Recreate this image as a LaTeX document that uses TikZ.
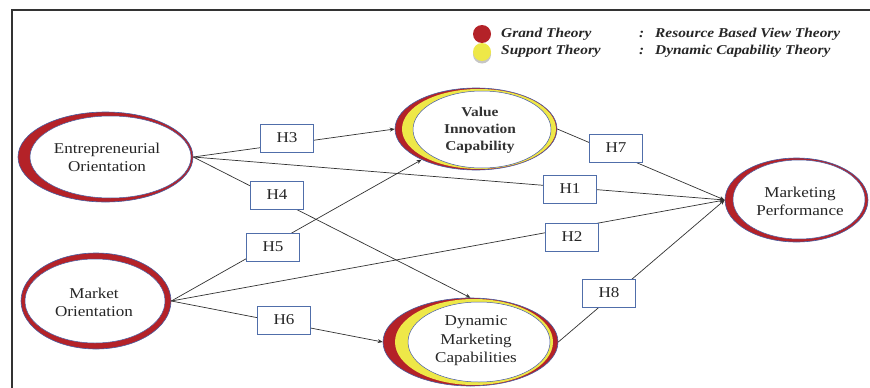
\documentclass[tikz,border=0pt]{standalone}
\usepackage{fontspec}
\setmainfont{Liberation Serif}[FakeStretch=1.14]
\usetikzlibrary{shapes.geometric,arrows.meta}
\definecolor{ringred}{RGB}{180,34,40}
\definecolor{ringyel}{RGB}{238,232,72}
\definecolor{edgeblue}{RGB}{72,92,160}
\definecolor{boxblue}{RGB}{80,110,170}
\definecolor{linegray}{RGB}{50,50,50}
\begin{document}
\begin{tikzpicture}[x=1pt,y=-1pt,
  outerell/.style={ellipse, fill=ringred, draw=edgeblue, line width=0.6pt, inner sep=0pt},
  yelell/.style={ellipse, fill=ringyel, inner sep=0pt},
  whiteell/.style={ellipse, fill=white, draw=edgeblue, line width=0.5pt, inner sep=0pt},
  lbl/.style={align=center, text=black!85, font=\fontsize{15}{18}\selectfont, inner sep=0pt},
  blbl/.style={align=center, text=black!80, font=\bfseries\fontsize{13.5}{17}\selectfont, inner sep=0pt},
  hbox/.style={draw=boxblue, fill=white, line width=0.8pt, minimum width=53pt, minimum height=28pt, inner sep=0pt, text=black!85, font=\fontsize{15}{18}\selectfont},
  conn/.style={draw=linegray, line width=0.7pt},
  arr/.style={conn, -{Stealth[length=5pt,width=4pt]}},
  legtxt/.style={font=\bfseries\itshape\fontsize{13.5}{16}\selectfont, text=black!85, inner sep=0pt, anchor=west}
]
\useasboundingbox (0,0) rectangle (870,388);
\fill[white] (0,0) rectangle (870,388);
% frame
\draw[line width=1.8pt, black!80] (12,388) -- (12,10) -- (870,10);

% legend
\node[circle, fill=gray!45, minimum size=18pt, inner sep=0pt] (lgS) at (482,54.5) {};
\node[circle, fill=ringyel, minimum size=18pt, inner sep=0pt] (lgY) at (482,52) {};
\node[circle, fill=ringred, minimum size=18pt, inner sep=0pt] (lgR) at (482,34) {};
\node[legtxt] (lg1) at (501,34) {Grand Theory};
\node[legtxt] (lg2) at (501,51) {Support Theory};
\node[legtxt] (lc1) at (639,34) {:};
\node[legtxt] (lc2) at (639,51) {:};
\node[legtxt] (lg3) at (655,34) {Resource Based View Theory};
\node[legtxt] (lg4) at (655,51) {Dynamic Capability Theory};

% Entrepreneurial Orientation
\node[outerell, minimum width=175pt, minimum height=90pt] (EO) at (105.5,157) {};
\node[whiteell, minimum width=161pt, minimum height=82pt] (EOi) at (110.5,157) {};
\node[lbl] (EOt) at (107,157) {Entrepreneurial\\Orientation};

% Market Orientation
\node[outerell, minimum width=150pt, minimum height=96pt] (MO) at (96,301) {};
\node[whiteell, minimum width=140pt, minimum height=84pt] (MOi) at (95,301) {};
\node[lbl] (MOt) at (94,302) {Market\\Orientation};

% Value Innovation Capability
\node[outerell, minimum width=162pt, minimum height=82pt] (VIC) at (476,129) {};
\node[yelell, minimum width=154pt, minimum height=80pt] (VICy) at (479,129) {};
\node[whiteell, minimum width=138pt, minimum height=77pt] (VICi) at (482,129.5) {};
\node[blbl] (VICt) at (480,130) {Value\\Innovation\\Capability};

% Dynamic Marketing Capabilities
\node[outerell, minimum width=175pt, minimum height=88pt] (DMC) at (470.5,342) {};
\node[yelell, minimum width=158pt, minimum height=86pt] (DMCy) at (474,342) {};
\node[whiteell, minimum width=142pt, minimum height=80pt] (DMCi) at (479,342) {};
\node[lbl, font=\fontsize{15}{18.5}\selectfont] (DMCt) at (476,341) {Dynamic\\Marketing\\Capabilities};

% Marketing Performance
\node[outerell, minimum width=143pt, minimum height=84pt] (MP) at (796.5,200) {};
\node[whiteell, minimum width=132pt, minimum height=79pt] (MPi) at (799,199.5) {};
\node[lbl] (MPt) at (800,201) {Marketing\\Performance};

% connectors
\draw[arr] (EO.east) -- (VIC.west);
\draw[arr] (EO.east) -- (MP.west);
\draw[arr] (EO.east) -- (DMC.north);
\draw[arr] (MO.east) -- (VIC);
\draw[arr] (MO.east) -- (MP.west);
\draw[arr] (MO.east) -- (DMC.west);
\draw[arr] (VIC.east) -- (MP.west);
\draw[arr] (DMC.east) -- (MP.west);

% hypothesis labels
\node[hbox] (H3) at (287,138) {H3};
\node[hbox] (H4) at (277,195) {H4};
\node[hbox] (H5) at (273,247) {H5};
\node[hbox] (H6) at (284,320) {H6};
\node[hbox] (H7) at (616,148) {H7};
\node[hbox] (H1) at (570,189) {H1};
\node[hbox] (H2) at (572,237) {H2};
\node[hbox] (H8) at (609,293) {H8};
\end{tikzpicture}
\end{document}
